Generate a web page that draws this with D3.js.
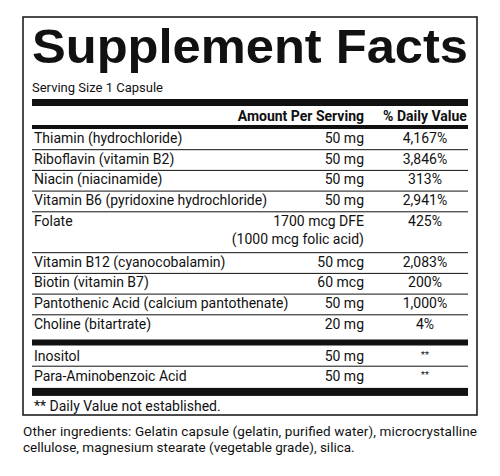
<!DOCTYPE html>
<html><head><meta charset="utf-8">
<script src="https://cdn.jsdelivr.net/npm/d3@7"></script>
<style>body{margin:0;background:#fff}</style>
</head><body><div id="container"></div>
<script>
// label content
const nutrients = ['Thiamin (hydrochloride)', 'Riboflavin (vitamin B2)', 'Niacin (niacinamide)', 'Vitamin B6 (pyridoxine hydrochloride)', 'Folate', 'Vitamin B12 (cyanocobalamin)', 'Biotin (vitamin B7)', 'Pantothenic Acid (calcium pantothenate)', 'Choline (bitartrate)'];
const amounts = [['50 mg'], ['50 mg'], ['50 mg'], ['50 mg'], ['1700 mcg DFE', '(1000 mcg folic acid)'], ['50 mcg'], ['60 mcg'], ['50 mg'], ['20 mg']];
const dailyValues = ['4,167%', '3,846%', '313%', '2,941%', '425%', '2,083%', '200%', '1,000%', '4%'];
const others = ['Inositol', 'Para-Aminobenzoic Acid'];
const otherAmounts = ['50 mg', '50 mg'];
const otherDV = ['**', '**'];

const font = "Roboto, 'Liberation Sans', sans-serif";
const left = 32, right = 468, amtX = 364, dvX = 425, rowH = 20.7, fs = 14;

let viz = d3.select('#container').append('svg')
    .attr('width', 500).attr('height', 476)
    .attr('font-family', font).attr('fill', '#111');

viz.append('rect').attr('x', 23).attr('y', 17).attr('width', 454).attr('height', 398)
    .attr('fill', 'none').attr('stroke', '#111').attr('stroke-width', 1.5);

viz.append('text').text('Supplement Facts')
    .attr('x', left).attr('y', 63)
    .attr('font-family', "'Liberation Sans', Arial, sans-serif")
    .attr('font-weight', 'bold').attr('font-size', 49)
    .attr('textLength', right - left).attr('lengthAdjust', 'spacingAndGlyphs');

viz.append('text').text('Serving Size 1 Capsule').attr('x', left).attr('y', 92).attr('font-size', 13);

function bar(y, h) {
    viz.append('rect').attr('x', left).attr('y', y).attr('width', right - left).attr('height', h).attr('fill', '#111');
}
function rule(y) {
    viz.append('line').attr('x1', left).attr('x2', right).attr('y1', y).attr('y2', y)
        .attr('stroke', '#111').attr('stroke-width', 1);
}

bar(99, 7);
viz.append('text').text('Amount Per Serving').attr('x', amtX).attr('y', 121)
    .attr('text-anchor', 'end').attr('font-weight', 'bold').attr('font-size', fs);
viz.append('text').text('% Daily Value').attr('x', dvX).attr('y', 121)
    .attr('text-anchor', 'middle').attr('font-weight', 'bold').attr('font-size', fs);
bar(125, 4);

// row layout
let y = 129;
let rows = nutrients.map((n, i) => {
    let h = rowH * amounts[i].length - (amounts[i].length > 1 ? 0.5 : 0);
    let r = {name: n, amt: amounts[i], dv: dailyValues[i], top: y, h: h};
    y += h;
    return r;
});

let g = viz.selectAll('.row').data(rows).enter().append('g')
    .attr('class', 'row').attr('font-size', fs)
    .attr('transform', d => `translate(0,${d.top})`);
g.append('text').text(d => d.name).attr('x', left + 2).attr('y', 14);
g.selectAll('.amt').data(d => d.amt).enter().append('text')
    .text(d => d).attr('x', amtX).attr('y', (d, i) => 14 + i * 18).attr('text-anchor', 'end');
g.append('text').text(d => d.dv).attr('x', dvX).attr('y', 14).attr('text-anchor', 'middle');
rows.slice(0, -1).forEach(r => rule(r.top + r.h));

bar(y + 4, 6);
y += 10;
others.forEach((o, i) => {
    let t = y + i * rowH;
    viz.append('text').text(o).attr('x', left + 2).attr('y', t + 15).attr('font-size', fs);
    viz.append('text').text(otherAmounts[i]).attr('x', amtX).attr('y', t + 15).attr('font-size', fs).attr('text-anchor', 'end');
    viz.append('text').text(otherDV[i]).attr('x', dvX).attr('y', t + 12).attr('font-size', 9).attr('text-anchor', 'middle');
    if (i < others.length - 1) rule(t + rowH);
});
y += others.length * rowH;
bar(y + 1, 8);

viz.append('text').text('** Daily Value not established.').attr('x', left + 2).attr('y', y + 24).attr('font-size', fs);

const otherIngredients = ['Other ingredients: Gelatin capsule (gelatin, purified water), microcrystalline',
    'cellulose, magnesium stearate (vegetable grade), silica.'];
viz.selectAll('.ing').data(otherIngredients).enter().append('text')
    .text(d => d).attr('x', 23).attr('y', (d, i) => 436 + i * 16).attr('font-size', 13.5)
    .attr('textLength', (d, i) => i === 0 ? 454 : null);
</script></body></html>
